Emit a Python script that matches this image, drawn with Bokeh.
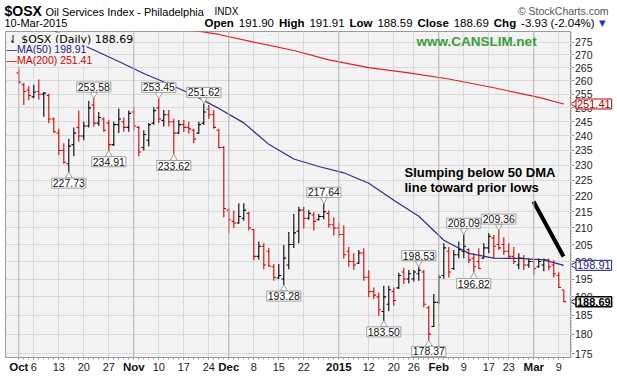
import numpy as np
import pandas as pd
from bokeh.plotting import figure
from bokeh.layouts import column, row
from bokeh.models import (Range1d, FixedTicker, Label, Span, ColumnDataSource,
                          BasicTickFormatter, LinearAxis, Grid)
from bokeh.embed import file_html
from bokeh.resources import INLINE

# ---------------- data ----------------
holidays = ["2014-11-27", "2014-12-25", "2015-01-01", "2015-01-19", "2015-02-16"]
dates = [d for d in pd.bdate_range("2014-10-01", "2015-03-10")
         if d.strftime("%Y-%m-%d") not in holidays]

opens = [263.0, 258.5, 256.5, 254.0, 256.0, 255.0, 254.5, 246.0, 241.0, 235.0,
         230.5, 237.0, 243.0, 240.0, 243.5, 251.0, 244.5, 246.0, 244.5, 237.0,
         244.0, 245.0, 243.0, 248.5, 243.0, 236.0, 238.5, 244.5, 250.0, 245.5,
         247.5, 245.0, 241.0, 244.0, 243.0, 242.0, 241.0, 244.5, 249.5, 247.5,
         242.0, 236.0, 215.5, 212.0, 211.5, 213.0, 214.5, 209.5, 201.5, 204.5,
         203.0, 198.5, 195.3, 195.0, 199.0, 205.0, 209.0, 215.5, 213.0, 214.0,
         212.5, 213.5, 214.5, 211.0, 210.0, 208.0, 203.0, 200.0, 199.5, 202.5,
         195.5, 191.5, 190.0, 186.0, 188.0, 191.5, 192.5, 197.0, 195.0, 195.0,
         196.5, 197.0, 187.0, 182.0, 188.5, 196.0, 203.0, 198.0, 202.0, 203.0,
         203.5, 201.0, 200.0, 201.0, 204.0, 207.0, 205.0, 205.0, 203.0, 201.5,
         199.0, 201.0, 199.0, 200.0, 198.5, 199.0, 200.5, 199.0, 196.0, 191.90]
highs = [264.5, 259.2, 258.0, 258.5, 260.5, 255.8, 255.2, 246.5, 242.5, 237.5,
         239.0, 243.0, 249.0, 245.0, 252.5, 253.58, 248.5, 246.5, 245.5, 245.0,
         249.8, 246.5, 249.0, 250.2, 243.5, 242.0, 244.6, 250.2, 253.45, 249.2,
         249.2, 246.1, 245.6, 245.6, 245.0, 242.5, 245.0, 251.62, 251.0, 249.2,
         242.5, 236.5, 216.0, 215.4, 217.7, 217.7, 215.0, 209.6, 205.9, 205.4,
         204.0, 199.3, 199.3, 204.9, 208.8, 214.3, 216.6, 216.6, 215.5, 214.9,
         214.3, 217.64, 215.4, 213.3, 211.6, 210.8, 204.3, 202.4, 203.4, 203.9,
         197.5, 192.6, 191.2, 193.1, 193.1, 192.6, 196.8, 198.2, 197.6, 197.6,
         198.53, 197.6, 187.6, 190.8, 196.3, 205.4, 204.3, 203.4, 205.9, 208.09,
         203.9, 202.4, 203.9, 205.4, 208.4, 207.9, 209.36, 207.2, 205.4, 204.3,
         202.4, 201.9, 200.9, 200.4, 201.0, 200.9, 200.9, 200.4, 196.9, 191.91]
lows = [258.8, 251.0, 252.8, 253.5, 253.0, 246.8, 244.5, 241.0, 233.5, 230.5,
        227.73, 233.0, 238.0, 238.5, 243.0, 243.3, 243.5, 241.5, 234.91, 236.5,
        241.0, 241.5, 241.5, 242.0, 233.0, 235.0, 236.4, 243.9, 244.6, 243.3,
        243.3, 233.62, 240.8, 241.4, 240.8, 237.5, 240.8, 243.9, 246.1, 242.5,
        235.7, 213.3, 208.4, 210.1, 211.3, 212.2, 209.2, 200.4, 200.5, 197.8,
        198.5, 194.5, 195.1, 193.28, 197.8, 204.0, 205.4, 209.8, 212.5, 209.2,
        212.3, 212.7, 210.1, 207.7, 207.1, 200.9, 198.5, 197.6, 199.3, 194.5,
        189.9, 189.4, 184.9, 183.50, 186.1, 187.6, 192.2, 193.6, 193.7, 194.3,
        194.5, 187.2, 178.37, 181.9, 188.0, 195.1, 195.4, 197.6, 200.9, 201.0,
        199.6, 196.82, 197.8, 200.9, 202.4, 201.0, 203.4, 201.9, 200.9, 199.3,
        197.8, 197.6, 198.2, 196.3, 198.2, 197.2, 197.6, 195.4, 192.5, 188.59]
closes = [259.5, 256.0, 254.5, 255.8, 255.0, 255.4, 246.0, 241.5, 235.0, 231.0,
          236.5, 241.0, 240.0, 243.5, 250.0, 244.5, 246.5, 242.0, 237.0, 244.0,
          246.0, 243.0, 248.0, 243.5, 234.5, 240.5, 244.0, 249.0, 246.0, 247.5,
          245.0, 241.0, 244.0, 243.0, 242.5, 239.0, 244.0, 248.5, 247.5, 243.0,
          236.0, 216.0, 212.5, 211.5, 213.5, 215.5, 210.0, 201.5, 204.5, 199.0,
          198.7, 195.5, 196.0, 201.0, 205.0, 208.5, 215.5, 213.0, 214.5, 212.0,
          213.5, 215.0, 211.0, 210.0, 208.0, 202.0, 200.0, 199.0, 202.5, 195.5,
          191.5, 190.5, 186.5, 190.0, 192.0, 189.0, 196.0, 195.0, 196.5, 197.0,
          197.5, 188.0, 180.0, 188.5, 195.5, 204.0, 197.0, 202.0, 203.5, 204.5,
          200.5, 198.5, 198.0, 204.0, 207.5, 204.5, 204.0, 203.0, 201.5, 200.0,
          201.0, 199.0, 200.0, 198.0, 200.0, 200.5, 198.5, 196.5, 192.62, 188.69]

# moving averages read at anchor bars (bar index, value)
ma50_idx = [0, 5, 10, 13, 15, 20, 25, 30, 35, 40, 45, 50, 55, 60, 65, 70, 75,
            80, 85, 90, 95, 100, 105, 109]
ma50_val = [286.3, 281.5, 276.9, 273.7, 271.9, 267.4, 262.8, 258.8, 254.6, 249.8,
            244.6, 237.1, 232.1, 229.6, 227.5, 224.1, 218.6, 213.6, 206.3, 202.4,
            201.0, 200.9, 200.5, 198.91]
ma200_idx = [20, 34, 40, 47, 55, 62, 70, 78, 86, 95, 104, 109]
ma200_val = [285.0, 280.1, 278.1, 275.0, 271.7, 268.0, 265.0, 263.0, 260.7, 257.4,
             253.8, 251.41]

# labelled extremes: (bar index, 'H' or 'L')
marks = [(15, "H"), (10, "L"), (18, "L"), (28, "H"), (31, "L"), (37, "H"),
         (61, "H"), (53, "L"), (80, "H"), (73, "L"), (89, "H"), (82, "L"),
         (91, "L"), (96, "H")]

tick_dates = ["2014-10-01", "2014-10-06", "2014-10-13", "2014-10-20", "2014-10-27",
              "2014-11-03", "2014-11-10", "2014-11-17", "2014-11-24", "2014-12-01",
              "2014-12-08", "2014-12-15", "2014-12-22", "2015-01-02", "2015-01-12",
              "2015-01-20", "2015-01-26", "2015-02-02", "2015-02-09", "2015-02-17",
              "2015-02-23", "2015-03-02", "2015-03-09"]
tick_labels = ["Oct", "6", "13", "20", "27", "Nov", "10", "17", "24", "Dec", "8",
               "15", "22", "2015", "12", "20", "26", "Feb", "9", "17", "23", "Mar", "9"]
month_labels = {"Oct", "Nov", "Dec", "2015", "Feb", "Mar"}
y_ticks = list(range(175, 280, 5))
last_values = [251.41, 198.91, 188.69]
last_colors = ["#b00000", "#1c1c80", "#000000"]
last_styles = ["normal", "normal", "bold"]

# ---------------- layout helpers ----------------
W, H = 617, 377
HEAD = 31
FL, FR, FT, FB = 5, 571, 31, 357
XS, XE = (FL - 18.3) / 5.0, (FR - 18.3) / 5.0
YT, YB = 279.3, 174.0
PX_PER_LN = (FB - FT) / np.log(YT / YB)


def px(xp, yp):
    i = XS + (xp - FL) / (FR - FL) * (XE - XS)
    v = np.exp(np.log(YT) - (yp - FT) / PX_PER_LN)
    return float(i), float(v)


# ---------------- header strip ----------------
head = figure(width=W, height=HEAD, x_range=Range1d(0, W), y_range=Range1d(HEAD, 0),
              output_backend="svg", toolbar_location=None, min_border=0,
              outline_line_color=None, border_fill_color="white",
              background_fill_color="white")
head.axis.visible = False
head.grid.visible = False


def hlab(xp, yp, text, size, bold=False, color="#000000", font="Liberation Sans",
         align="left"):
    head.add_layout(Label(x=xp, y=yp, text=text, text_font=font,
                          text_font_size=f"{size}px",
                          text_font_style="bold" if bold else "normal",
                          text_color=color, text_align=align,
                          text_baseline="middle"))


hlab(4, 10.5, "$OSX", 14, bold=True)
hlab(45, 11, "Oil Services Index - Philadelphia", 11)
hlab(214, 11, "INDX", 10)
hlab(608, 10.5, "\u00a9 StockCharts.com", 10.5, color="#555555", align="right")
hlab(4, 22.5, "10-Mar-2015", 11)
pieces = [(204.0, "Open", True), (238.3, "191.90", False), (278.4, "High", True),
          (308.9, "191.91", False), (349.0, "Low", True), (376.9, "188.59", False),
          (417.0, "Close", True), (453.2, "188.69", False), (493.3, "Chg", True),
          (520.6, "-3.93 (-2.04%)", False)]
for xp, t, b in pieces:
    hlab(xp, 22.5, t, 11.5, bold=b)
hlab(598.5, 22.5, "\u25bc", 8.5, color="#2233cc", font="DejaVu Sans")

# ---------------- main chart ----------------
p = figure(width=FR, height=H - HEAD, x_range=Range1d(XS, XE),
           y_range=Range1d(YB, YT), y_axis_type="log", y_axis_location=None,
           output_backend="svg", toolbar_location=None, min_border_left=FL,
           min_border_right=0, min_border_top=0, min_border_bottom=H - FB,
           background_fill_color="#f3f3f3", border_fill_color="white",
           outline_line_color="#9a9a9a")

idx = np.arange(len(dates))
date_str = [d.strftime("%Y-%m-%d") for d in dates]
tick_idx = [date_str.index(t) for t in tick_dates]
month_idx = [t for t, l in zip(tick_idx, tick_labels) if l in month_labels]

# date axis (regular labels)
xa = p.xaxis[0]
xa.ticker = FixedTicker(ticks=tick_idx, minor_ticks=list(idx))
xa.major_label_overrides = {t: ("" if l in month_labels else l)
                            for t, l in zip(tick_idx, tick_labels)}
xa.axis_line_color = None
xa.major_tick_line_color = "#9a9a9a"
xa.major_tick_out = 2
xa.major_tick_in = 0
xa.minor_tick_line_color = "#9a9a9a"
xa.minor_tick_out = 2
xa.minor_tick_in = 0
xa.major_label_standoff = 3
xa.major_label_text_font = "Liberation Sans"
xa.major_label_text_font_size = "11px"
xa.major_label_text_color = "#222222"

# bold month names, overlaid on the same row
xm = LinearAxis(ticker=FixedTicker(ticks=month_idx, minor_ticks=[]),
                major_label_overrides={t: l for t, l in zip(tick_idx, tick_labels)
                                       if l in month_labels},
                axis_line_color=None, major_tick_line_color=None,
                minor_tick_line_color=None, major_tick_out=0, major_tick_in=0,
                minor_tick_out=0, minor_tick_in=0, major_label_standoff=-13,
                major_label_text_font="Liberation Sans",
                major_label_text_font_size="11.5px",
                major_label_text_font_style="bold",
                major_label_text_color="#111111")
p.add_layout(xm, "below")

p.xgrid.grid_line_color = "#d9d9d9"
p.add_layout(Grid(dimension=1, ticker=FixedTicker(ticks=y_ticks),
                  grid_line_color="#d9d9d9"))
for t in month_idx:
    p.add_layout(Span(location=t, dimension="height", line_color="#b5b5b5",
                      line_width=1))

# OHLC bars
o = np.array(opens); h = np.array(highs); lo = np.array(lows); c = np.array(closes)
prev = np.concatenate([[c[0] + 1], c[:-1]])
colors = ["#d40000" if cc < pc else "#000000" for cc, pc in zip(c, prev)]
src = ColumnDataSource(dict(x=idx, xl=idx - 0.45, xr=idx + 0.45, o=o, h=h, l=lo,
                            c=c, col=colors))
p.segment("x", "h", "x", "l", color="col", line_width=1.1, source=src)
p.segment("xl", "o", "x", "o", color="col", line_width=1.1, source=src)
p.segment("x", "c", "xr", "c", color="col", line_width=1.1, source=src)

# moving averages
p.line(ma200_idx, ma200_val, line_color="#e02020", line_width=1.2)
p.line(ma50_idx, ma50_val, line_color="#2e2e8a", line_width=1.2)


def lab(xp, yp, text, size, bold=False, color="#000000", font="Liberation Sans",
        align="left", baseline="middle", **kw):
    i, v = px(xp, yp)
    p.add_layout(Label(x=i, y=v, text=text, text_font=font,
                       text_font_size=f"{size}px",
                       text_font_style="bold" if bold else "normal",
                       text_color=color, text_align=align, text_baseline=baseline,
                       **kw))


# extreme value labels with small pointers
ptr_x, ptr_y, ptr_m = [], [], []
for i, kind in marks:
    val = highs[i] if kind == "H" else lows[i]
    up = kind == "H"
    ptr_x.append(i)
    ptr_y.append(val * np.exp((3.8 if up else -3.8) / PX_PER_LN))
    ptr_m.append("inverted_triangle" if up else "triangle")
p.scatter(ptr_x, ptr_y, marker=ptr_m, size=7, fill_color="white",
          line_color="#a0a0a0", line_width=1)
for i, kind in marks:
    val = highs[i] if kind == "H" else lows[i]
    p.add_layout(Label(x=i, y=val, text=f"{val:.2f}", text_font="Liberation Sans",
                       text_font_size="10.5px", text_color="#111111",
                       text_align="center",
                       text_baseline="bottom" if kind == "H" else "top",
                       y_offset=6 if kind == "H" else -6,
                       background_fill_color="white", border_line_color="#a0a0a0",
                       padding=1))

# legend
lab(8, 38.5, "\u21c3 $OSX (Daily) 188.69", 11, font="DejaVu Sans",
    background_fill_color="#f3f3f3")
lab(6, 48.7, "\u2014MA(50) 198.91", 10.5, color="#1c1c80",
    background_fill_color="#f3f3f3")
lab(6, 59.5, "\u2014MA(200) 251.41", 10.5, color="#d00000",
    background_fill_color="#f3f3f3")

# watermark & annotation
lab(476, 41, "www.CANSLIM.net", 13.5, bold=True, color="#3a9d3a", align="center")
lab(404, 172, "Slumping below 50 DMA", 13, bold=True)
lab(404, 187, "line toward prior lows", 13, bold=True)
a0 = px(533, 201)
a1 = px(563, 256)
p.segment([a0[0]], [a0[1]], [a1[0]], [a1[1]], line_color="black", line_width=4)

# ---------------- price axis strip ----------------
RW = W - FR
rf = figure(width=RW, height=H - HEAD, x_range=Range1d(0, RW), y_range=p.y_range,
            y_axis_type="log", y_axis_location="left", x_axis_location=None,
            output_backend="svg", toolbar_location=None, min_border_left=0,
            min_border_right=0, min_border_top=0, min_border_bottom=H - FB,
            outline_line_color=None, background_fill_color="white",
            border_fill_color="white")
rf.grid.visible = False
ra = rf.yaxis[0]
ra.ticker = FixedTicker(ticks=y_ticks, minor_ticks=[])
ra.formatter = BasicTickFormatter()
ra.axis_line_color = "#9a9a9a"
ra.axis_line_dash = "1 2"
ra.major_tick_line_color = "#9a9a9a"
ra.major_tick_out = 0
ra.major_tick_in = 3
ra.major_label_standoff = -21
ra.major_label_text_font = "Liberation Sans"
ra.major_label_text_font_size = "10.5px"
ra.major_label_text_color = "#222222"

rf.scatter([3.5] * len(last_values), last_values, marker="triangle",
           angle=np.pi / 2, size=8, fill_color="white", line_color=last_colors,
           line_width=1)
for val, col, sty in zip(last_values, last_colors, last_styles):
    rf.add_layout(Label(x=4.5, y=val, text=f"{val:.2f}", text_font="Liberation Sans",
                        text_font_size="11px", text_font_style=sty, text_color=col,
                        text_align="left", text_baseline="middle",
                        background_fill_color="white", border_line_color=col,
                        border_line_width=1.5 if sty == "bold" else 1, padding=1))

layout = column(head, row(p, rf, spacing=0), spacing=0)
open("out.html", "w").write(file_html(layout, INLINE))
